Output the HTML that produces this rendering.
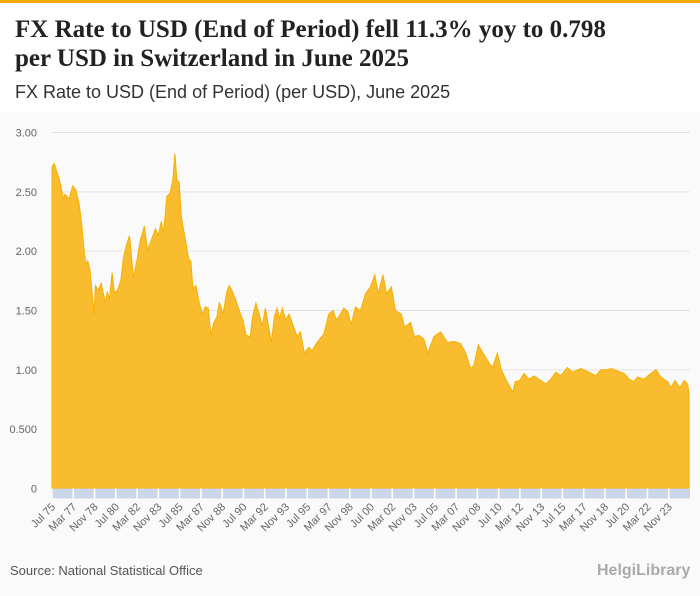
<!DOCTYPE html>
<html><head><meta charset="utf-8"><style>
body{margin:0;width:700px;height:596px;background:#fafafa;font-family:"Liberation Sans",sans-serif;overflow:hidden;position:relative}
#hdr{position:absolute;left:0;top:0;width:700px;height:112px;background:#fff;border-top:3px solid #f5a800;box-sizing:border-box}
#title{position:absolute;left:15px;top:12px;font-family:"Liberation Serif",serif;font-weight:bold;font-size:25px;line-height:29px;color:#222}
#sub{position:absolute;left:15px;top:79px;font-size:18px;color:#333}
#src{position:absolute;left:10px;top:563px;font-size:13px;color:#555}
#logo{position:absolute;left:597px;top:562px;font-size:16px;color:#aaa;font-weight:bold}
svg{position:absolute;left:0;top:0}
</style></head><body>
<div id="hdr">
<div id="title">FX Rate to USD (End of Period) fell 11.3% yoy to 0.798<br>per USD in Switzerland in June 2025</div>
<div id="sub">FX Rate to USD (End of Period) (per USD), June 2025</div>
</div>
<svg id="chart" width="700" height="596"></svg>
<div id="src">Source: National Statistical Office</div>
<div id="logo">HelgiLibrary</div>
<script>
const years=[1975.5,1975.68,1975.87,1976.07,1976.39,1976.52,1976.83,1977.12,1977.38,1977.62,1977.83,1978.04,1978.17,1978.30,1978.48,1978.80,1978.90,1979.13,1979.35,1979.68,1979.84,1980.00,1980.21,1980.39,1980.63,1980.89,1981.10,1981.36,1981.57,1981.88,1982.15,1982.41,1982.74,1982.98,1983.24,1983.61,1983.82,1984.06,1984.24,1984.50,1984.76,1984.97,1985.13,1985.29,1985.47,1985.63,1985.81,1986.02,1986.20,1986.39,1986.54,1986.78,1987.04,1987.30,1987.51,1987.74,1987.96,1988.16,1988.43,1988.61,1988.90,1989.21,1989.39,1989.60,1989.86,1990.20,1990.46,1990.72,1991.04,1991.22,1991.48,1991.74,1991.98,1992.22,1992.48,1992.69,1992.93,1993.14,1993.34,1993.55,1993.81,1994.08,1994.44,1994.71,1994.97,1995.28,1995.62,1995.89,1996.14,1996.48,1996.80,1997.19,1997.53,1997.79,1998.11,1998.37,1998.68,1998.95,1999.28,1999.68,2000.07,2000.46,2000.80,2001.07,2001.43,2001.72,2002.09,2002.42,2002.87,2003.13,2003.60,2003.91,2004.25,2004.64,2004.96,2005.43,2005.96,2006.48,2007.00,2007.52,2007.92,2008.31,2008.57,2008.91,2009.17,2009.62,2010.01,2010.40,2010.72,2011.06,2011.63,2011.79,2012.16,2012.49,2012.89,2013.28,2013.67,2014.20,2014.59,2014.98,2015.37,2015.90,2016.29,2016.94,2017.60,2018.12,2018.51,2018.91,2019.38,2019.82,2020.34,2020.73,2021.08,2021.39,2021.91,2022.30,2022.83,2023.22,2023.74,2024.00,2024.32,2024.71,2025.05,2025.31,2025.42];
const rates=[2.71,2.74,2.67,2.61,2.44,2.48,2.44,2.55,2.51,2.40,2.23,1.98,1.88,1.92,1.84,1.47,1.71,1.67,1.73,1.57,1.66,1.59,1.82,1.65,1.67,1.75,1.95,2.06,2.13,1.78,1.92,2.09,2.21,2.01,2.08,2.19,2.13,2.25,2.15,2.46,2.49,2.60,2.82,2.60,2.58,2.29,2.18,2.06,1.94,1.91,1.68,1.71,1.56,1.47,1.53,1.52,1.29,1.39,1.45,1.57,1.47,1.66,1.71,1.67,1.60,1.49,1.42,1.29,1.28,1.45,1.56,1.47,1.37,1.52,1.36,1.23,1.45,1.52,1.43,1.52,1.42,1.47,1.36,1.28,1.32,1.14,1.19,1.16,1.21,1.26,1.30,1.47,1.50,1.42,1.47,1.52,1.49,1.38,1.53,1.50,1.64,1.70,1.80,1.64,1.80,1.64,1.70,1.50,1.47,1.36,1.40,1.28,1.29,1.26,1.14,1.28,1.32,1.23,1.24,1.22,1.14,1.01,1.04,1.21,1.16,1.08,1.02,1.14,1.00,0.92,0.81,0.90,0.91,0.97,0.92,0.95,0.92,0.88,0.92,0.98,0.95,1.02,0.98,1.01,0.98,0.95,1.00,1.00,1.01,0.99,0.97,0.92,0.90,0.94,0.92,0.96,1.00,0.94,0.90,0.85,0.91,0.85,0.91,0.88,0.80];
const yTicks=[0,0.5,1,1.5,2,2.5,3];
const yTickLabels=["0","0.500","1.00","1.50","2.00","2.50","3.00"];
const xLabels=["Jul 75","Mar 77","Nov 78","Jul 80","Mar 82","Nov 83","Jul 85","Mar 87","Nov 88","Jul 90","Mar 92","Nov 93","Jul 95","Mar 97","Nov 98","Jul 00","Mar 02","Nov 03","Jul 05","Mar 07","Nov 08","Jul 10","Mar 12","Nov 13","Jul 15","Mar 17","Nov 18","Jul 20","Mar 22","Nov 23"];
const NS="http://www.w3.org/2000/svg",svg=document.getElementById('chart');
const X0=52,X1=689,Y0=488.5,Y1=132.5,T0=1975.5,T1=2025.42,VMAX=3;
const xs=t=>X0+(t-T0)/(T1-T0)*(X1-X0);
const ys=v=>Y0-v/VMAX*(Y0-Y1);
function mk(tag,attrs){const e=document.createElementNS(NS,tag);for(const k in attrs)e.setAttribute(k,attrs[k]);svg.appendChild(e);return e;}
yTicks.forEach((v,i)=>{
 if(v>0){const g=mk('line',{x1:X0,x2:690,y1:ys(v),y2:ys(v),stroke:'#e3e3e3','stroke-width':1});
 
 }
 const t=mk('text',{x:37,y:ys(v)+4,'text-anchor':'end','font-size':'11','fill':'#666','font-family':'Liberation Sans, sans-serif'});
 t.textContent=yTickLabels[i];
 
 
});
let d='M'+xs(years[0])+','+Y0;
years.forEach((t,i)=>{d+=' L'+xs(t).toFixed(1)+','+ys(rates[i]).toFixed(1);});
d+=' L'+xs(years[years.length-1])+','+Y0+' Z';
const area=mk('path',{d:d,fill:'#f9bc2f',stroke:'#f5b000','stroke-width':1});


const band=mk('rect',{x:X0-1,y:Y0,width:X1-X0+2,height:10,fill:'#ccd6eb'});


xLabels.forEach((l,i)=>{
 const t=T0+i*20/12, x=xs(t);
 const tk=mk('line',{x1:x,x2:x,y1:Y0,y2:Y0+10,stroke:'#fff','stroke-width':1.5});
 
 
 const tx=mk('text',{x:x+4,y:Y0+19,'text-anchor':'end','font-size':'11','fill':'#666','font-family':'Liberation Sans, sans-serif',transform:'rotate(-45 '+(x+4)+' '+(Y0+19)+')'});
 tx.textContent=l;
 
 
});
</script>
</body></html>
